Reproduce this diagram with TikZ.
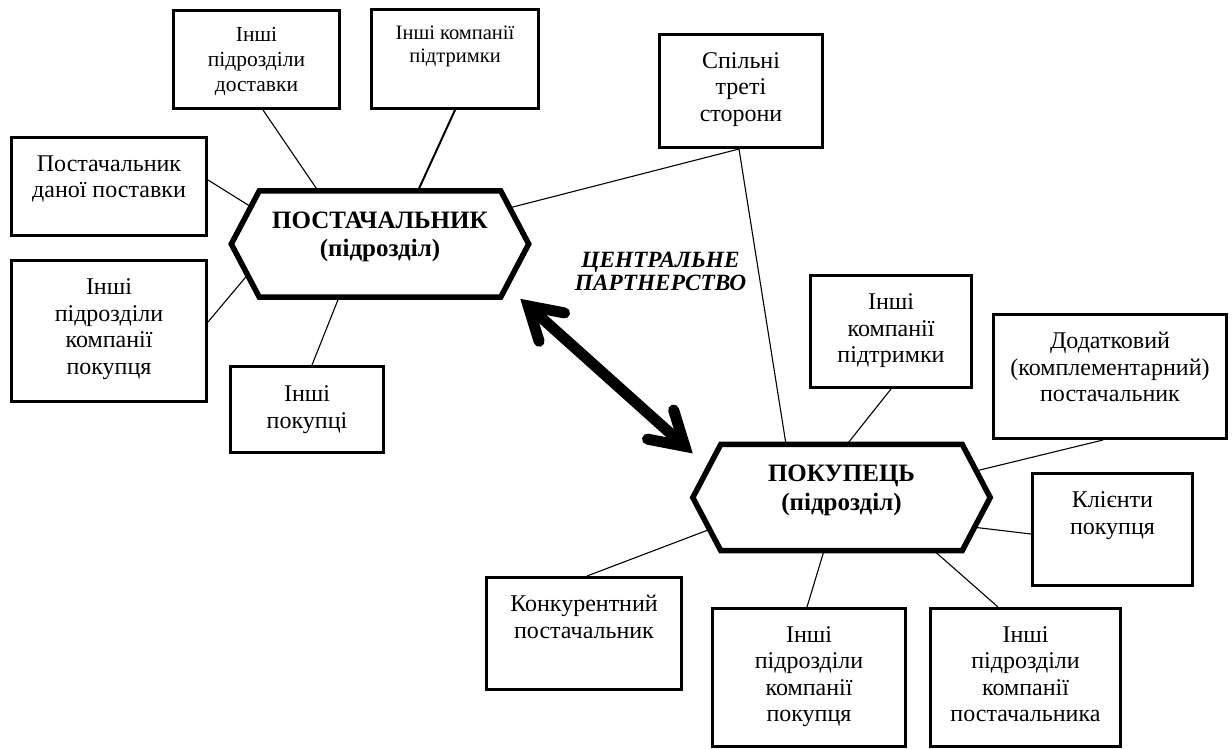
\documentclass[tikz,border=0pt]{standalone}
\usepackage{fontspec}
\setmainfont{Liberation Serif}
\usetikzlibrary{calc}
\newcommand{\bxt}[4][34]{\parbox[t][#3pt][t]{#2pt}{\centering\rule{0pt}{#1pt}#4}}
\newcommand{\hxt}[1]{\parbox[t][106pt][t]{241pt}{\centering\rule{0pt}{37pt}#1}}
\begin{document}
\begin{tikzpicture}[x=1pt,y=-1pt,
  box/.style={draw, line width=3pt, inner sep=0pt, font=\fontsize{24}{26.5}\selectfont},
  smallbox/.style={box, font=\fontsize{21.5}{25}\selectfont},
  tinybox/.style={box, font=\fontsize{20.5}{23}\selectfont},
  hexn/.style={inner sep=0pt, font=\bfseries\fontsize{25}{28.5}\selectfont},
  hexb/.style={line width=5.5pt, line join=miter},
  conn/.style={line width=1.1pt},
  thickconn/.style={line width=2pt},
  bigarr/.style={line width=11pt, line cap=round, line join=miter},
  ctext/.style={inner sep=0pt, align=center, font=\bfseries\itshape\fontsize{23.3}{23.5}\selectfont}]
\useasboundingbox (0,0) rectangle (1232,749);
% boxes
\node[smallbox] (A) at (256.5,59.5) {\bxt[31.5]{166}{98}{Інші\\підрозділи\\доставки}};
\node[tinybox] (B) at (455,59) {\bxt[30.5]{167}{99}{Інші компанії\\підтримки}};
\node[box] (C) at (109,186.5) {\bxt{195}{98}{Постачальник\\даної поставки}};
\node[box] (D) at (109,331) {\bxt{195}{141}{Інші\\підрозділи\\компанії\\покупця}};
\node[box] (E) at (307,409.5) {\bxt[35]{153}{86}{Інші\\покупці}};
\node[box] (F) at (741,91) {\bxt{163}{113}{Спільні\\треті\\сторони}};
\node[box] (G) at (891,331.5) {\bxt{161}{112}{Інші\\компанії\\підтримки}};
\node[box] (H) at (1110,376.5) {\bxt{233}{124}{Додатковий\\(комплементарний)\\постачальник}};
\node[box] (I) at (1112.5,529.5) {\bxt{160}{112}{Клієнти\\покупця}};
\node[box] (J) at (584,633.5) {\bxt{195}{112}{Конкурентний\\постачальник}};
\node[box] (K) at (809,677.5) {\bxt[33.5]{193}{138}{Інші\\підрозділи\\компанії\\покупця}};
\node[box] (L) at (1025.5,677.5) {\bxt[33.5]{190}{138}{Інші\\підрозділи\\компанії\\постачальника}};
% hexagons
\node[hexn] (P) at (380,244) {\hxt{ПОСТАЧАЛЬНИК\\(підрозділ)}};
\node[hexn] (Q) at (841.5,497.5) {\hxt{ПОКУПЕЦЬ\\(підрозділ)}};
\coordinate (PW) at ([xshift=-28pt]P.west);
\coordinate (PE) at ([xshift=28pt]P.east);
\coordinate (QW) at ([xshift=-28pt]Q.west);
\coordinate (QE) at ([xshift=28pt]Q.east);
\draw[hexb] (P.north west) -- (P.north east) -- (PE) -- (P.south east) -- (P.south west) -- (PW) -- cycle;
\draw[hexb] (Q.north west) -- (Q.north east) -- (QE) -- (Q.south east) -- (Q.south west) -- (QW) -- cycle;
% central label
\node[ctext] (CT) at (660.5,271.5) {ЦЕНТРАЛЬНЕ\\ПАРТНЕРСТВО};
% connectors
\draw[conn] ([xshift=6.5pt]A.south) -- ([xshift=-62pt]P.north);
\draw[thickconn] (B.south) -- ([xshift=38pt]P.north);
\draw[conn] ([yshift=6.5pt]C.east) -- ($(P.north west)!0.3!(PW)$);
\draw[conn] ([yshift=9pt]D.east) -- ($(PW)!0.58!(P.south west)$);
\draw[conn] ([xshift=-41pt]P.south) -- ([xshift=5pt]E.north);
\draw[conn] ($(P.north east)!0.32!(PE)$) -- ([xshift=-2pt]F.south);
\draw[conn] ([xshift=-2pt]F.south) -- ([xshift=-55.5pt]Q.north);
\draw[conn] (G.south) -- ([xshift=5.5pt]Q.north);
\draw[conn] ($(Q.north east)!0.5!(QE)$) -- ([xshift=-7pt]H.south);
\draw[conn] ($(QE)!0.56!(Q.south east)$) -- ([yshift=-4.5pt]I.west);
\draw[conn] ($(QW)!0.6!(Q.south west)$) -- ([xshift=3pt]J.north);
\draw[conn] ([xshift=-17.5pt]Q.south) -- ([xshift=-2pt]K.north);
\draw[conn] ([xshift=92.5pt]Q.south) -- ([xshift=-27.5pt]L.north);
% central partnership arrow
\coordinate (t1) at ([xshift=27.5pt,yshift=-8.75pt]P.south east);
\coordinate (t2) at ([xshift=-36pt,yshift=-2pt]Q.north west);
\draw[bigarr] (t1) -- (t2);
\draw[bigarr] ($(t1)!37pt!31:(t2)$) -- (t1) -- ($(t1)!37pt!-31:(t2)$);
\draw[bigarr] ($(t2)!38pt!31:(t1)$) -- (t2) -- ($(t2)!38pt!-31:(t1)$);
\end{tikzpicture}
\end{document}
